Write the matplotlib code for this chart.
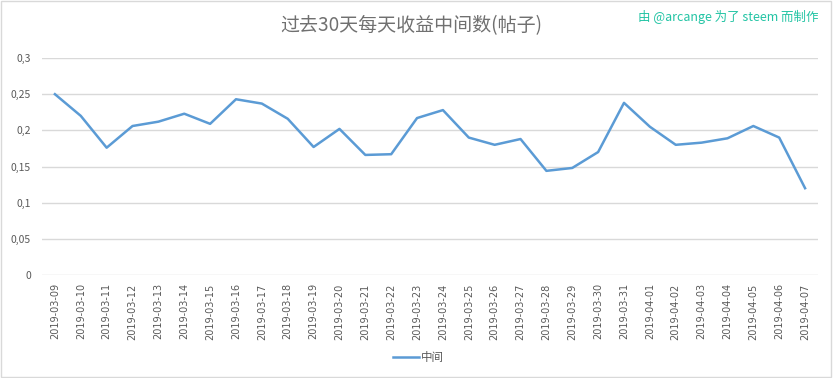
import matplotlib.pyplot as plt
from matplotlib.ticker import FuncFormatter

plt.rcParams['font.family'] = ['Noto Sans CJK SC', 'DejaVu Sans']

# dates and median post payout per day
dates = ["2019-03-09", "2019-03-10", "2019-03-11", "2019-03-12", "2019-03-13",
         "2019-03-14", "2019-03-15", "2019-03-16", "2019-03-17", "2019-03-18",
         "2019-03-19", "2019-03-20", "2019-03-21", "2019-03-22", "2019-03-23",
         "2019-03-24", "2019-03-25", "2019-03-26", "2019-03-27", "2019-03-28",
         "2019-03-29", "2019-03-30", "2019-03-31", "2019-04-01", "2019-04-02",
         "2019-04-03", "2019-04-04", "2019-04-05", "2019-04-06", "2019-04-07"]
median = [0.250, 0.220, 0.176, 0.206, 0.212, 0.223, 0.209, 0.243, 0.237, 0.216,
          0.177, 0.202, 0.166, 0.167, 0.217, 0.228, 0.190, 0.180, 0.188, 0.144,
          0.148, 0.170, 0.238, 0.205, 0.180, 0.183, 0.189, 0.206, 0.190, 0.120]
yticks = [0, 0.05, 0.1, 0.15, 0.2, 0.25, 0.3]

fig = plt.figure(figsize=(8.33, 3.78), dpi=100)
# light chart border like excel
fig.patches.append(plt.Rectangle((0.001, 0.002), 0.997, 0.995, transform=fig.transFigure,
                                 fill=False, edgecolor="#d9d9d9", linewidth=1))

ax = fig.add_axes([0.0504, 0.2725, 0.9316, 0.574])
x = range(len(dates))
ax.plot(x, median, color="#5b9bd5", linewidth=1.8, label="中间")

ax.set_xlim(-0.5, len(dates) - 0.5)
ax.set_ylim(0, 0.3)
ax.set_yticks(yticks)
ax.yaxis.set_major_formatter(FuncFormatter(lambda v, p: ("%g" % round(v, 2)).replace(".", ",")))
ax.set_xticks(list(x))
ax.set_xticklabels(dates, rotation=90, fontsize=7, color="#595959", family="DejaVu Sans")
ax.tick_params(axis="y", labelsize=7.5, colors="#595959", length=0, pad=8)
ax.tick_params(axis="x", length=0, pad=6)
ax.grid(axis="y", color="#d9d9d9", linewidth=1)
ax.set_axisbelow(True)
for s in ax.spines.values():
    s.set_visible(False)

fig.text(0.4935, 0.932, "过去30天每天收益中间数(帖子)", ha="center", va="center",
         fontsize=13.7, color="#707070")
fig.text(0.983, 0.954, "由 @arcange 为了 steem 而制作", ha="right", va="center",
         fontsize=9, color="#22c4a4")

fig.legend(loc="center", bbox_to_anchor=(0.502, 0.055), frameon=False, fontsize=8.3,
           handlelength=2.3, handletextpad=0.15, labelcolor="#595959")

fig.savefig("out.png", dpi=100)
